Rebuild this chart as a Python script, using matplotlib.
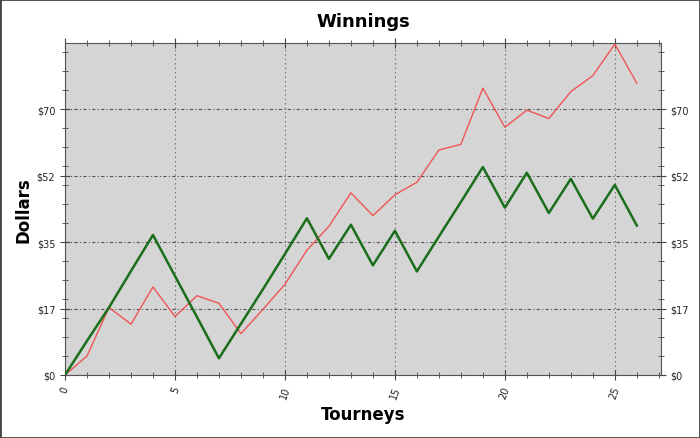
import numpy as np
import matplotlib.pyplot as plt
from matplotlib.ticker import FixedLocator, MultipleLocator

tourneys = list(range(27))
# red series
total = [0, 5, 17.8, 13.4, 23.2, 15.4, 20.9, 18.9, 10.9, 17.3, 23.9, 32.9,
         39.2, 48.0, 42.0, 47.5, 50.8, 59.3, 60.8, 75.6, 65.3, 69.8, 67.6,
         74.7, 78.9, 87.2, 76.9]
# green series
net = [0, 9.0, 17.8, 27.4, 36.9, 26.1, 15.3, 4.4, 13.5, 22.6, 31.9, 41.3,
       30.6, 39.6, 28.9, 38.0, 27.3, 36.5, 45.6, 54.8, 44.1, 53.3, 42.7,
       51.7, 41.2, 50.1, 39.4]

yticks = [0, 17.5, 35, 52.5, 70]
ylabels = ["$0", "$17", "$35", "$52", "$70"]
xticks = [0, 5, 10, 15, 20, 25]

fig = plt.figure(figsize=(7, 4.39), dpi=100)
ax = fig.add_axes([65/700, 63/439, 596/700, 332/439])
ax.set_facecolor("#d5d5d5")

ax.plot(tourneys, total, color="#f05555", lw=1.0, zorder=3)
ax.plot(tourneys, net, color="#1b6e1b", lw=1.8, zorder=4)

ax.set_xlim(0, 27.1)
ax.set_ylim(0, 87.5)
ax.xaxis.set_major_locator(FixedLocator(xticks))
ax.xaxis.set_minor_locator(MultipleLocator(1))
ax.yaxis.set_major_locator(FixedLocator(yticks))
ax.yaxis.set_minor_locator(MultipleLocator(5))
ax.set_yticklabels(ylabels)
ax.set_xticklabels([str(t) for t in xticks], rotation=70)

ax.tick_params(axis="both", which="both", direction="inout", colors="#444444",
               labelcolor="#222222", labelsize=7)
ax.tick_params(which="major", length=7)
ax.tick_params(which="minor", length=5)
ax.tick_params(axis="y", which="both", right=True, labelright=True)
ax.tick_params(axis="x", which="both", top=True)

ax.grid(axis="x", which="major", color="#555555", ls=(0, (1, 3)), lw=0.8)
ax.grid(axis="y", which="major", color="#555555", ls=(0, (3, 2, 1, 2)), lw=0.8)
for s in ax.spines.values():
    s.set_color("#555555")

ax.set_title("Winnings", fontsize=13, fontweight="bold", pad=12)
ax.set_xlabel("Tourneys", fontsize=12, fontweight="bold", labelpad=4)
ax.set_ylabel("Dollars", fontsize=12, fontweight="bold", labelpad=3)

fig.patches.append(plt.Rectangle((0, 0), 1, 1, transform=fig.transFigure,
                                 fill=False, edgecolor="#444444", lw=2))
fig.savefig("out.png", dpi=100)
